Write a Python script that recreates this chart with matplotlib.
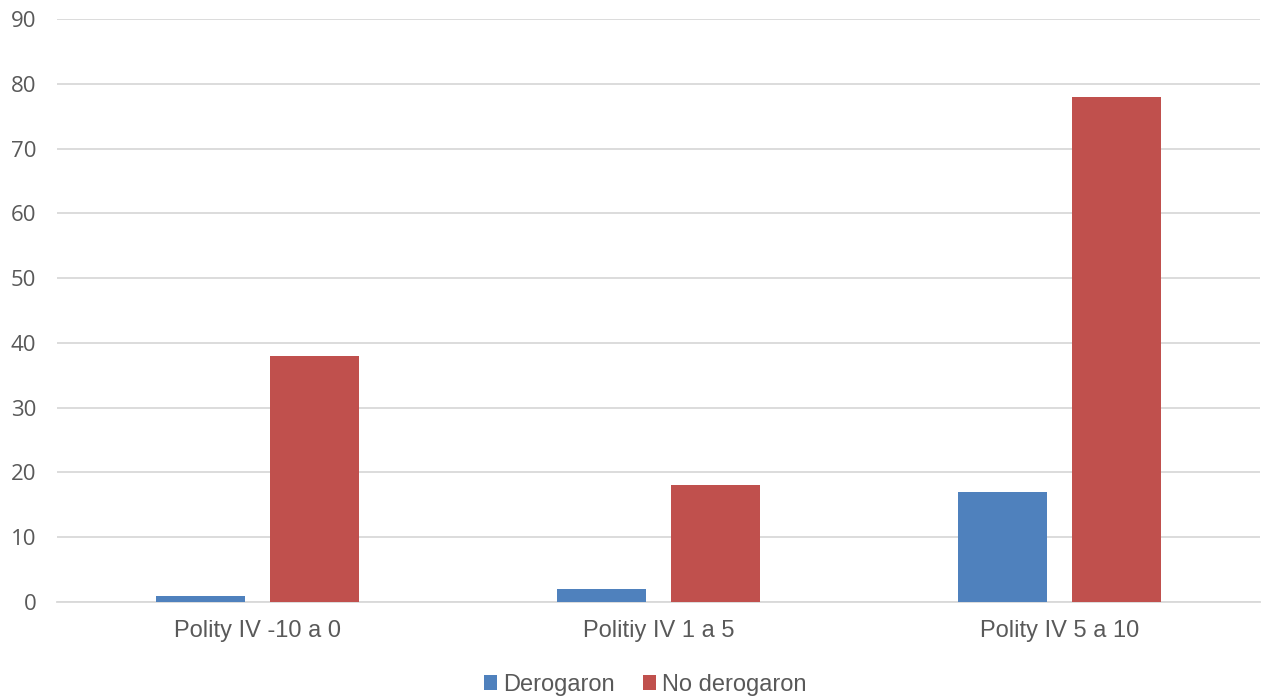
import numpy as np
import matplotlib.pyplot as plt

categories = ["Polity IV -10 a 0", "Politiy IV 1 a 5", "Polity IV 5 a 10"]
derogaron = [1, 2, 17]
no_derogaron = [38, 18, 78]
yticks = [0, 10, 20, 30, 40, 50, 60, 70, 80, 90]

plt.rcParams['font.family'] = ['Liberation Sans', 'DejaVu Sans']
text_color = "#595959"

fig = plt.figure(figsize=(12.63, 6.99), dpi=100)
ax = fig.add_axes([0.0451, 0.1388, 0.9525, 0.834])

x = np.arange(len(categories))
w = 0.222
off = 0.142
ax.bar(x - off, derogaron, w, color="#4F81BD", label="Derogaron", zorder=3)
ax.bar(x + off, no_derogaron, w, color="#C0504D", label="No derogaron", zorder=3)

ax.set_xlim(-0.5, len(categories) - 0.5)
ax.set_ylim(0, 90)
ax.set_yticks(yticks)
ax.set_yticklabels([str(v) for v in yticks], fontsize=16, color=text_color,
                   family=['Open Sans', 'DejaVu Sans'])
ax.set_xticks(x)
ax.set_xticklabels(categories, fontsize=17, color=text_color)
ax.tick_params(axis="both", length=0)
ax.tick_params(axis="x", pad=13)
ax.tick_params(axis="y", pad=15)

ax.grid(axis="y", color="#D9D9D9", linewidth=1.3, zorder=0)
for s in ["top", "right", "left"]:
    ax.spines[s].set_visible(False)
ax.spines["bottom"].set_color("#D9D9D9")
ax.spines["bottom"].set_linewidth(1.3)

leg = ax.legend(loc="center", bbox_to_anchor=(0.489, -0.142), ncol=2, frameon=False,
                fontsize=17, handlelength=0.55, handleheight=0.55, handletextpad=0.25,
                columnspacing=1.2)
for t in leg.get_texts():
    t.set_color(text_color)

plt.savefig("out.png", dpi=100)
